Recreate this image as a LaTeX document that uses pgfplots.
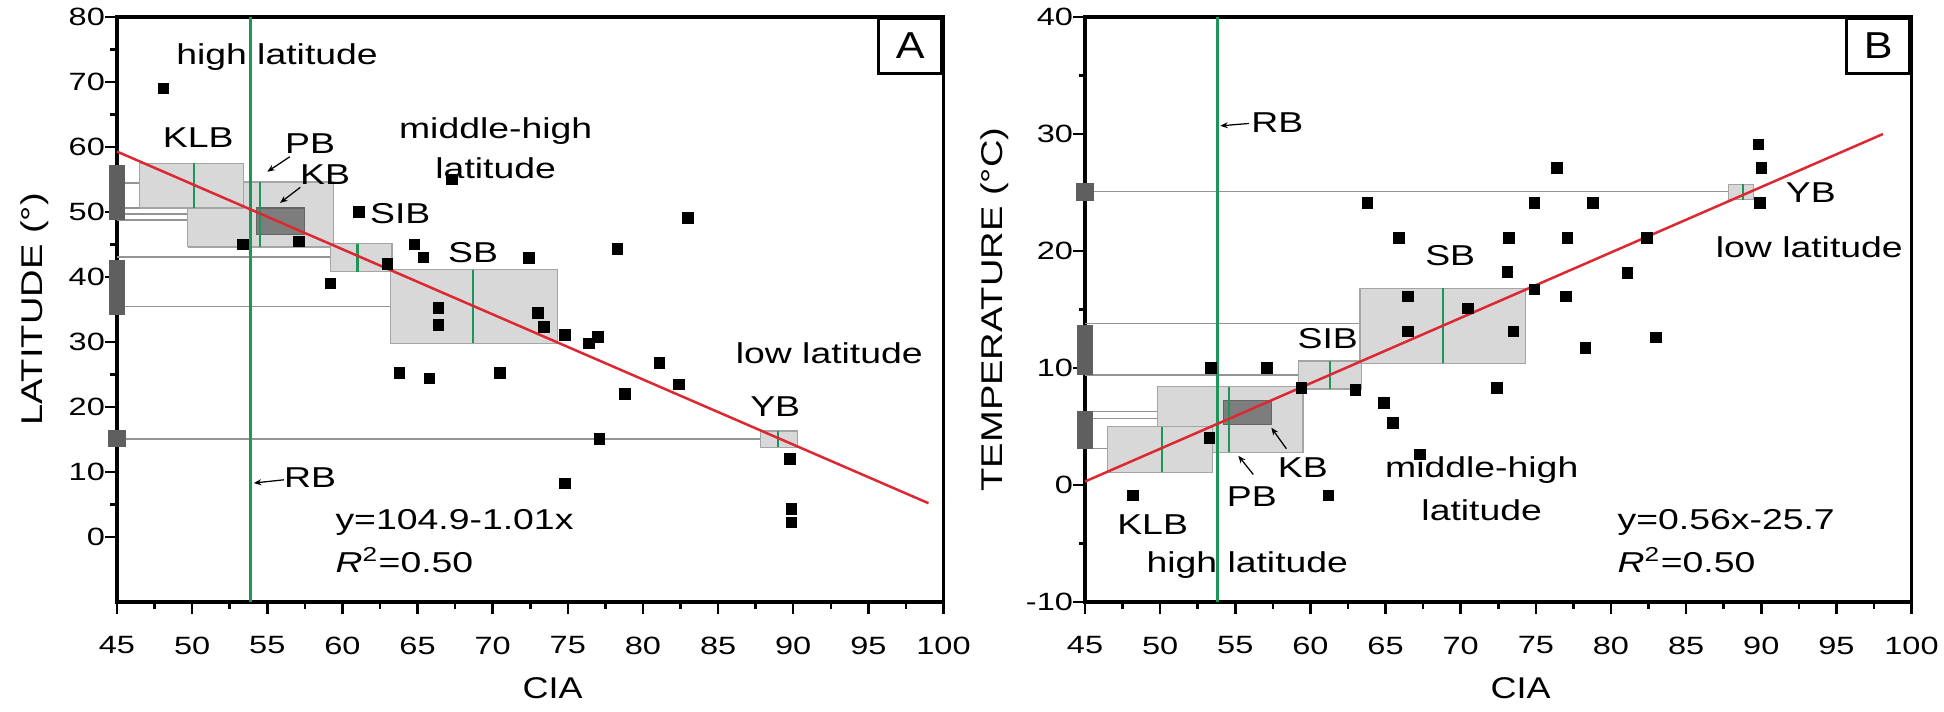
\documentclass[border=0pt]{standalone}
\usepackage{pgfplots}
\pgfplotsset{compat=1.18}
\usepackage{fontspec}
\setmainfont{Liberation Sans}
\usetikzlibrary{arrows.meta}

\definecolor{rbgreen}{RGB}{30,150,90}
\definecolor{fitred}{RGB}{220,40,50}
\definecolor{boxfill}{RGB}{216,216,216}
\definecolor{boxedge}{RGB}{165,165,165}
\definecolor{kbfill}{RGB}{125,125,125}
\definecolor{barfill}{RGB}{95,95,95}

\tikzset{
  lab/.style={font=\fontsize{11.5}{13}\selectfont, xscale=1.3, inner sep=0pt},
  arr/.style={-{Stealth[length=3pt,width=2.4pt]}, line width=0.5pt},
}

\pgfplotsset{
  panel/.style={
    scale only axis, width=330.6pt, height=234pt,
    xmin=45, xmax=100,
    xtick={45,50,...,100}, minor x tick num=1, minor y tick num=1,
    tick pos=left, tick align=outside,
    major tick length=4.8pt, minor tick length=2.6pt,
    every tick/.style={black, line width=1pt},
    axis line style={line width=1.4pt},
    clip=false,
    /pgf/number format/assume math mode=true,
    every tick label/.append style={font=\fontsize{10}{12}\selectfont, xscale=1.3},
    xticklabel style={yshift=-5.5pt},
    yticklabel style={xshift=3.5pt},
    xlabel={CIA},
    xlabel style={at={(axis description cs:0.527,-0.147)}, anchor=center, font=\fontsize{12}{14}\selectfont, xscale=1.2},
  },
  conn/.style={black!42, line width=0.6pt, forget plot},
  bx/.style={fill=boxfill, draw=boxedge, line width=0.5pt},
  kbx/.style={fill=kbfill, draw=kbfill!80!black, line width=0.5pt},
  med/.style={rbgreen, line width=0.9pt},
  bar/.style={fill=barfill, draw=none},
  rbline/.style={rbgreen, line width=1.3pt},
  fit/.style={fitred, line width=1pt},
  pts/.style={only marks, mark=square*, mark size=2.1pt, black},
}

\begin{document}
\begin{tikzpicture}
\useasboundingbox (-46.8pt,-43.6pt) rectangle (730.8pt,240.8pt);

% ---------------- A: latitude ----------------
\begin{axis}[panel, at={(0pt,0pt)}, anchor=south west,
  ymin=-10, ymax=80, ytick={0,10,...,80},
  ylabel={LATITUDE (°)},
  ylabel style={at={(axis description cs:-0.099,0.5)}, anchor=center, font=\fontsize{12}{14}\selectfont, xscale=1.27},
]
% lines from the axis
\addplot[conn] coordinates {(45,54.5) (53.4,54.5)};
\addplot[conn] coordinates {(45,50.6) (57.5,50.6)};
\addplot[conn] coordinates {(45,49.7) (49.7,49.7)};
\addplot[conn] coordinates {(45,48.8) (49.7,48.8)};
\addplot[conn] coordinates {(45,43.1) (59.2,43.1)};
\addplot[conn] coordinates {(45,35.5) (63.2,35.5)};
\addplot[conn] coordinates {(45,15.1) (87.8,15.1)};
% ranges on the axis
\addplot[bar] coordinates {(44.45,48.8) (45.55,48.8) (45.55,57.2) (44.45,57.2)};
\addplot[bar] coordinates {(44.45,34.2) (45.55,34.2) (45.55,42.6) (44.45,42.6)};
\addplot[bar] coordinates {(44.4,13.8) (45.6,13.8) (45.6,16.5) (44.4,16.5)};
% basin boxes
\addplot[bx] coordinates {(49.7,44.6) (59.4,44.6) (59.4,54.6) (49.7,54.6) (49.7,44.6)};
\addplot[bx] coordinates {(46.5,50.6) (53.4,50.6) (53.4,57.5) (46.5,57.5) (46.5,50.6)};
\addplot[kbx] coordinates {(54.3,46.5) (57.5,46.5) (57.5,50.6) (54.3,50.6) (54.3,46.5)};
\addplot[bx] coordinates {(59.2,40.8) (63.3,40.8) (63.3,45.1) (59.2,45.1) (59.2,40.8)};
\addplot[bx] coordinates {(63.2,29.8) (74.3,29.8) (74.3,41.1) (63.2,41.1) (63.2,29.8)};
\addplot[bx] coordinates {(87.8,13.8) (90.3,13.8) (90.3,16.3) (87.8,16.3) (87.8,13.8)};
% medians
\addplot[med] coordinates {(50.1,50.6) (50.1,57.5)};
\addplot[med] coordinates {(54.5,44.6) (54.5,54.6)};
\addplot[med] coordinates {(61.0,40.8) (61.0,45.1)};
\addplot[med] coordinates {(68.7,29.8) (68.7,41.1)};
\addplot[med] coordinates {(89.0,13.8) (89.0,16.3)};
% RB and fit
\addplot[rbline] coordinates {(53.9,-10) (53.9,80)};
\addplot[fit] coordinates {(45,59.3) (99,5.2)};
% samples
\addplot[pts] coordinates {
(48.1,69) (53.4,45) (57.1,45.5) (61.1,50) (64.8,45) (65.4,43) (63.0,42)
(59.2,39) (67.3,55) (66.4,35.2) (66.4,32.6) (83.0,49.1) (78.3,44.3)
(72.4,42.9) (73.0,34.5) (73.4,32.3) (74.8,31.1) (76.4,29.8) (77.0,30.8)
(63.8,25.2) (65.8,24.4) (70.5,25.2) (81.1,26.8) (82.4,23.5) (78.8,22.0)
(77.1,15.1) (74.8,8.2) (89.8,12.0) (89.9,4.3) (89.9,2.2)};
% labels
\node[lab] at (axis cs:55.65,73.8) {high latitude};
\node[lab] at (axis cs:50.4,61.4) {KLB};
\node[lab] at (axis cs:57.85,60.6) {PB};
\draw[arr] (axis cs:56.5,58.5) -- (axis cs:55.0,56.2);
\node[lab] at (axis cs:58.85,55.7) {KB};
\draw[arr] (axis cs:57.2,53.8) -- (axis cs:55.85,51.4);
\node[lab, anchor=west] at (axis cs:61.8,49.8) {SIB};
\node[lab, align=center, font=\fontsize{11.5}{16}\selectfont] at (axis cs:70.2,59.8) {middle-high\\latitude};
\node[lab] at (axis cs:68.7,43.8) {SB};
\node[lab] at (axis cs:92.4,28.3) {low latitude};
\node[lab] at (axis cs:88.8,20.0) {YB};
\node[lab] at (axis cs:57.85,9.1) {RB};
\draw[arr] (axis cs:56.1,8.8) -- (axis cs:54.1,8.3);
\node[lab, anchor=west] at (axis cs:59.5,2.3) {y=104.9-1.01x};
\node[lab, anchor=west] at (axis cs:59.5,-3.5) {\textit{R}\textsuperscript{2}=0.50};
\node[draw, line width=1.2pt, minimum size=22pt, anchor=north east, inner sep=0pt,
  font=\fontsize{15}{15}\selectfont, xscale=1.15] at (rel axis cs:1,1) {A};
\end{axis}

% ---------------- B: temperature ----------------
\begin{axis}[panel, at={(387.2pt,0pt)}, anchor=south west,
  ymin=-10, ymax=40, ytick={-10,0,...,40},
  ylabel={TEMPERATURE (°C)},
  ylabel style={at={(axis description cs:-0.109,0.5)}, anchor=center, font=\fontsize{12}{14}\selectfont, xscale=1.27},
]
\addplot[conn] coordinates {(45,25.1) (87.8,25.1)};
\addplot[conn] coordinates {(45,13.8) (63.3,13.8)};
\addplot[conn] coordinates {(45,9.4) (59.2,9.4)};
\addplot[conn] coordinates {(45,6.3) (54.2,6.3)};
\addplot[conn] coordinates {(45,5.7) (49.8,5.7)};
\addplot[conn] coordinates {(45,3.1) (46.5,3.1)};
\addplot[bar] coordinates {(44.47,9.4) (45.53,9.4) (45.53,13.7) (44.47,13.7)};
\addplot[bar] coordinates {(44.47,3.1) (45.53,3.1) (45.53,6.3) (44.47,6.3)};
\addplot[bar] coordinates {(44.4,24.3) (45.6,24.3) (45.6,25.8) (44.4,25.8)};
\addplot[bx] coordinates {(49.8,2.8) (59.5,2.8) (59.5,8.4) (49.8,8.4) (49.8,2.8)};
\addplot[bx] coordinates {(46.5,1.1) (53.5,1.1) (53.5,5.0) (46.5,5.0) (46.5,1.1)};
\addplot[kbx] coordinates {(54.2,5.2) (57.4,5.2) (57.4,7.2) (54.2,7.2) (54.2,5.2)};
\addplot[bx] coordinates {(59.2,8.2) (63.4,8.2) (63.4,10.6) (59.2,10.6) (59.2,8.2)};
\addplot[bx] coordinates {(63.3,10.4) (74.3,10.4) (74.3,16.8) (63.3,16.8) (63.3,10.4)};
\addplot[bx] coordinates {(87.8,24.4) (89.5,24.4) (89.5,25.7) (87.8,25.7) (87.8,24.4)};
\addplot[med] coordinates {(50.1,1.1) (50.1,5.0)};
\addplot[med] coordinates {(54.6,2.8) (54.6,8.4)};
\addplot[med] coordinates {(61.3,8.2) (61.3,10.6)};
\addplot[med] coordinates {(68.8,10.4) (68.8,16.8)};
\addplot[med] coordinates {(88.8,24.4) (88.8,25.7)};
\addplot[rbline] coordinates {(53.8,-10) (53.8,40)};
\addplot[fit] coordinates {(45,0.3) (98.1,30.0)};
\addplot[pts] coordinates {
(63.8,24.1) (65.9,21.1) (66.5,16.1) (66.5,13.1) (89.8,29.1) (90.0,27.1)
(89.9,24.1) (76.4,27.1) (74.9,24.1) (78.8,24.1) (73.2,21.1) (77.1,21.1)
(82.4,21.1) (73.1,18.2) (81.1,18.1) (74.9,16.7) (77.0,16.1) (70.5,15.1)
(73.5,13.1) (78.3,11.7) (83.0,12.6) (72.4,8.3) (53.4,10.0) (57.1,10.0)
(59.4,8.3) (63.0,8.1) (64.9,7.0) (65.5,5.3) (67.3,2.6) (53.3,4.0)
(48.2,-0.9) (61.2,-0.9)};
\node[lab] at (axis cs:57.8,31.0) {RB};
\draw[arr] (axis cs:55.9,30.9) -- (axis cs:54.0,30.7);
\node[lab] at (axis cs:61.15,12.5) {SIB};
\node[lab] at (axis cs:69.3,19.6) {SB};
\node[lab] at (axis cs:93.3,25.0) {YB};
\node[lab] at (axis cs:93.2,20.3) {low latitude};
\node[lab] at (axis cs:49.5,-3.4) {KLB};
\node[lab] at (axis cs:55.8,-6.8) {high latitude};
\node[lab] at (axis cs:56.1,-1.0) {PB};
\draw[arr] (axis cs:56.2,0.9) -- (axis cs:55.2,2.5);
\node[lab] at (axis cs:59.5,1.5) {KB};
\draw[arr] (axis cs:58.4,3.1) -- (axis cs:57.4,4.9);
\node[lab, align=center, font=\fontsize{11.5}{17}\selectfont] at (axis cs:71.4,-0.3) {middle-high\\latitude};
\node[lab, anchor=west] at (axis cs:80.4,-3.2) {y=0.56x-25.7};
\node[lab, anchor=west] at (axis cs:80.4,-6.4) {\textit{R}\textsuperscript{2}=0.50};
\node[draw, line width=1.2pt, minimum size=22pt, anchor=north east, inner sep=0pt,
  font=\fontsize{15}{15}\selectfont, xscale=1.15] at (rel axis cs:1,1) {B};
\end{axis}
\end{tikzpicture}
\end{document}
